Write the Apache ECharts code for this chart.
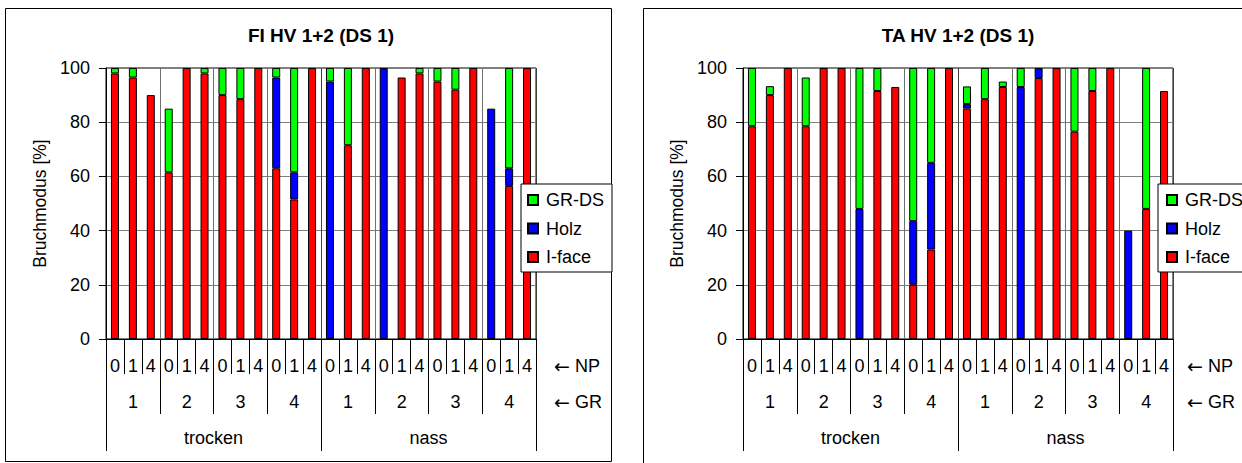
<!DOCTYPE html>
<html>
<head>
<meta charset="utf-8">
<script src="https://cdn.jsdelivr.net/npm/echarts@6/dist/echarts.min.js"></script>
<style>
html,body{margin:0;padding:0;background:#fff;}
#c{width:1242px;height:463px;}
</style>
</head>
<body>
<div id="c"></div>
<script>
// ---- data ----
const NP_LABELS = ['0','1','4','0','1','4','0','1','4','0','1','4','0','1','4','0','1','4','0','1','4','0','1','4'];
const GR_LABELS = ['1','2','3','4','1','2','3','4'];
const STATE_LABELS = ['trocken','nass'];
const SERIES_NAMES = ['I-face','Holz','GR-DS'];
const TITLES = ['FI HV 1+2 (DS 1)','TA HV 1+2 (DS 1)'];
const Y_NAME = 'Bruchmodus [%]';

// FI HV 1+2 (DS 1)
const FI_IFACE = [98,96.5,90, 61.5,100,98, 90,88.5,100, 63,51.5,100, 0,71.5,100, 0,96.5,98, 95,92,100, 0,56.5,100];
const FI_HOLZ  = [0,0,0, 0,0,0, 0,0,0, 33.5,10,0, 95,0,0, 100,0,0, 0,0,0, 85,6.5,0];
const FI_GRDS  = [2,3.5,0, 23.5,0,2, 10,11.5,0, 3.5,38.5,0, 5,28.5,0, 0,0,2, 5,8,0, 0,37,0];

// TA HV 1+2 (DS 1)
const TA_IFACE = [78.5,90,100, 78.5,100,100, 0,91.5,93, 20,33,100, 85,88.5,93, 0,96.3,100, 76.5,91.5,100, 0,48,91.5];
const TA_HOLZ  = [0,0,0, 0,0,0, 48,0,0, 23.5,32,0, 1.7,0,0, 93,3.7,0, 0,0,0, 40,0,0];
const TA_GRDS  = [21.5,3.3,0, 18,0,0, 52,8.5,0, 56.5,35,0, 6.5,11.5,2, 7,0,0, 23.5,8.5,0, 0,52,0];

const DATA = [[FI_IFACE,FI_HOLZ,FI_GRDS],[TA_IFACE,TA_HOLZ,TA_GRDS]];
const COLORS = {'I-face':'#ff0000','Holz':'#0000ff','GR-DS':'#00ff00'};

const FONT = '"Liberation Sans", Arial, sans-serif';
const FS = 18;
const GRID_LEFTS = [106, 743];
const PLOT_W = 430;

const grids = [], xAxes = [], yAxes = [], series = [], titles = [], legends = [];
GRID_LEFTS.forEach((gl, g) => {
  grids.push({left: gl, top: 68, width: PLOT_W, height: 271, show: true, borderColor: '#000', borderWidth: 1, containLabel: false});
  const base = {gridIndex: g, type: 'category', position: 'bottom', boundaryGap: true,
    axisLine: {show: true, lineStyle: {color: '#000', width: 1}},
    axisLabel: {interval: 0, color: '#000', fontFamily: FONT, fontSize: FS}};
  xAxes.push(Object.assign({}, base, {data: NP_LABELS,
    axisTick: {show: true, interval: 0, length: 35, lineStyle: {color: '#000'}},
    axisLabel: Object.assign({}, base.axisLabel, {margin: 18}),
    splitLine: {show: false}}));
  xAxes.push(Object.assign({}, base, {data: GR_LABELS,
    axisTick: {show: true, interval: 0, length: 75, lineStyle: {color: '#000'}},
    axisLabel: Object.assign({}, base.axisLabel, {margin: 54}),
    splitLine: {show: true, interval: 0, lineStyle: {color: '#707070', width: 1}}}));
  xAxes.push(Object.assign({}, base, {data: STATE_LABELS,
    axisTick: {show: true, interval: 0, length: 112, lineStyle: {color: '#000'}},
    axisLabel: Object.assign({}, base.axisLabel, {margin: 90}),
    splitLine: {show: true, interval: 0, lineStyle: {color: '#404040', width: 1}}}));
  yAxes.push({gridIndex: g, type: 'value', min: 0, max: 100, interval: 20,
    name: Y_NAME, nameLocation: 'middle', nameRotate: 90, nameGap: 57,
    nameTextStyle: {color: '#000', fontFamily: FONT, fontSize: 17.5},
    axisLine: {show: true, lineStyle: {color: '#000'}},
    axisTick: {show: true, length: 7, lineStyle: {color: '#000'}},
    axisLabel: {margin: 16, color: '#000', fontFamily: FONT, fontSize: FS},
    splitLine: {show: true, lineStyle: {color: '#808080', width: 1}}});
  SERIES_NAMES.forEach((nm, k) => {
    series.push({name: nm, type: 'bar', stack: 'st' + g, xAxisIndex: g * 3, yAxisIndex: g,
      barWidth: 8,
      itemStyle: {color: COLORS[nm], borderColor: '#000', borderWidth: 1},
      emphasis: {disabled: true},
      data: DATA[g][k].map(v => v === 0 ? '-' : v)});
  });
  titles.push({text: TITLES[g], left: gl + PLOT_W / 2, top: 26, textAlign: 'center', padding: 0,
    textStyle: {fontFamily: FONT, fontSize: 19, fontWeight: 'bold', color: '#000'}});
  legends.push({data: ['GR-DS','Holz','I-face'], orient: 'vertical',
    left: g === 0 ? 521 : 1158, top: 184,
    padding: g === 0 ? [7, 8, 6, 6] : [7, 40, 6, 8], itemGap: 10.5,
    itemWidth: 10, itemHeight: 10, icon: 'rect',
    backgroundColor: '#fff', borderColor: '#000', borderWidth: 1, borderRadius: 0,
    selectedMode: false,
    textStyle: {fontFamily: FONT, fontSize: FS, color: '#000', padding: [0,0,0,3]}});
});

function arrowText(x, y, label) {
  return {type: 'text', left: x, top: y, style: {
    text: '{a|\u2190} ' + label,
    font: FS + 'px ' + FONT, fill: '#000',
    rich: {a: {fontFamily: '"DejaVu Sans", sans-serif', fontSize: 19, fill: '#000', color: '#000'}}
  }};
}

const graphics = [
  {type: 'rect', shape: {x: 5.5, y: 8.5, width: 606, height: 453}, style: {fill: 'none', stroke: '#000', lineWidth: 1}, z: -10},
  {type: 'rect', shape: {x: 643.5, y: 8.5, width: 640, height: 480}, style: {fill: 'none', stroke: '#000', lineWidth: 1}, z: -10},
  arrowText(554, 356, 'NP'),
  arrowText(554, 392, 'GR'),
  arrowText(1187, 356, 'NP'),
  arrowText(1187, 392, 'GR')
];

const chart = echarts.init(document.getElementById('c'), null, {renderer: 'svg'});
chart.setOption({
  animation: false,
  backgroundColor: '#fff',
  title: titles,
  legend: legends,
  grid: grids,
  xAxis: xAxes,
  yAxis: yAxes,
  series: series,
  graphic: graphics
});
</script>
</body>
</html>
